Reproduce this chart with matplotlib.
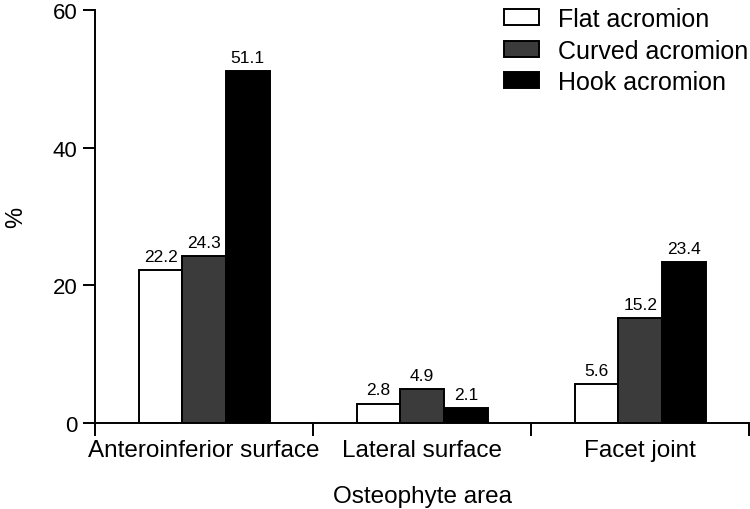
import matplotlib
matplotlib.use("Agg")
import matplotlib.pyplot as plt
import numpy as np

plt.rcParams['font.family'] = ['Liberation Sans', 'DejaVu Sans']

categories = ["Anteroinferior surface", "Lateral surface", "Facet joint"]
series = ["Flat acromion", "Curved acromion", "Hook acromion"]
flat = [22.2, 2.8, 5.6]
curved = [24.3, 4.9, 15.2]
hook = [51.1, 2.1, 23.4]
colors = ["white", "#3b3b3b", "black"]

fig = plt.figure(figsize=(7.5, 5.1), dpi=100)
ax = fig.add_axes([0.127, 0.169, 0.872, 0.809])

x = np.arange(len(categories))
w = 0.2
for i, (vals, name, c) in enumerate(zip([flat, curved, hook], series, colors)):
    pos = x + (i - 1) * w
    ax.bar(pos, vals, w, color=c, edgecolor="black", linewidth=1.4, label=name)
    for p, v in zip(pos, vals):
        ax.text(p, v + 0.9, f"{v}", ha="center", va="bottom", fontsize=12.5)

ax.set_xlim(-0.5, 2.5)
ax.set_ylim(0, 60)
ax.set_yticks([0, 20, 40, 60])
ax.set_xticks(np.arange(-0.5, 3, 1))
ax.set_xticklabels([])
ax.set_xticks(x, minor=True)
ax.set_xticklabels(categories, minor=True, fontsize=17.5)
ax.tick_params(axis="x", which="minor", length=0, pad=12)
ax.tick_params(axis="x", which="major", length=9, width=1.4)
ax.tick_params(axis="y", length=9, width=1.4, labelsize=16, pad=4)
ax.spines["top"].set_visible(False)
ax.spines["right"].set_visible(False)
ax.spines["left"].set_linewidth(1.4)
ax.spines["bottom"].set_linewidth(1.4)
ax.set_ylabel("%", fontsize=17, labelpad=18)
ax.set_xlabel("Osteophyte area", fontsize=17.5, labelpad=17)

fig.legend(loc="upper right", bbox_to_anchor=(0.997, 0.984), frameon=False, fontsize=18,
           handlelength=1.4, handleheight=0.6, labelspacing=0.3, handletextpad=0.75,
           borderpad=0, borderaxespad=0)

fig.savefig("out.png", dpi=100)
